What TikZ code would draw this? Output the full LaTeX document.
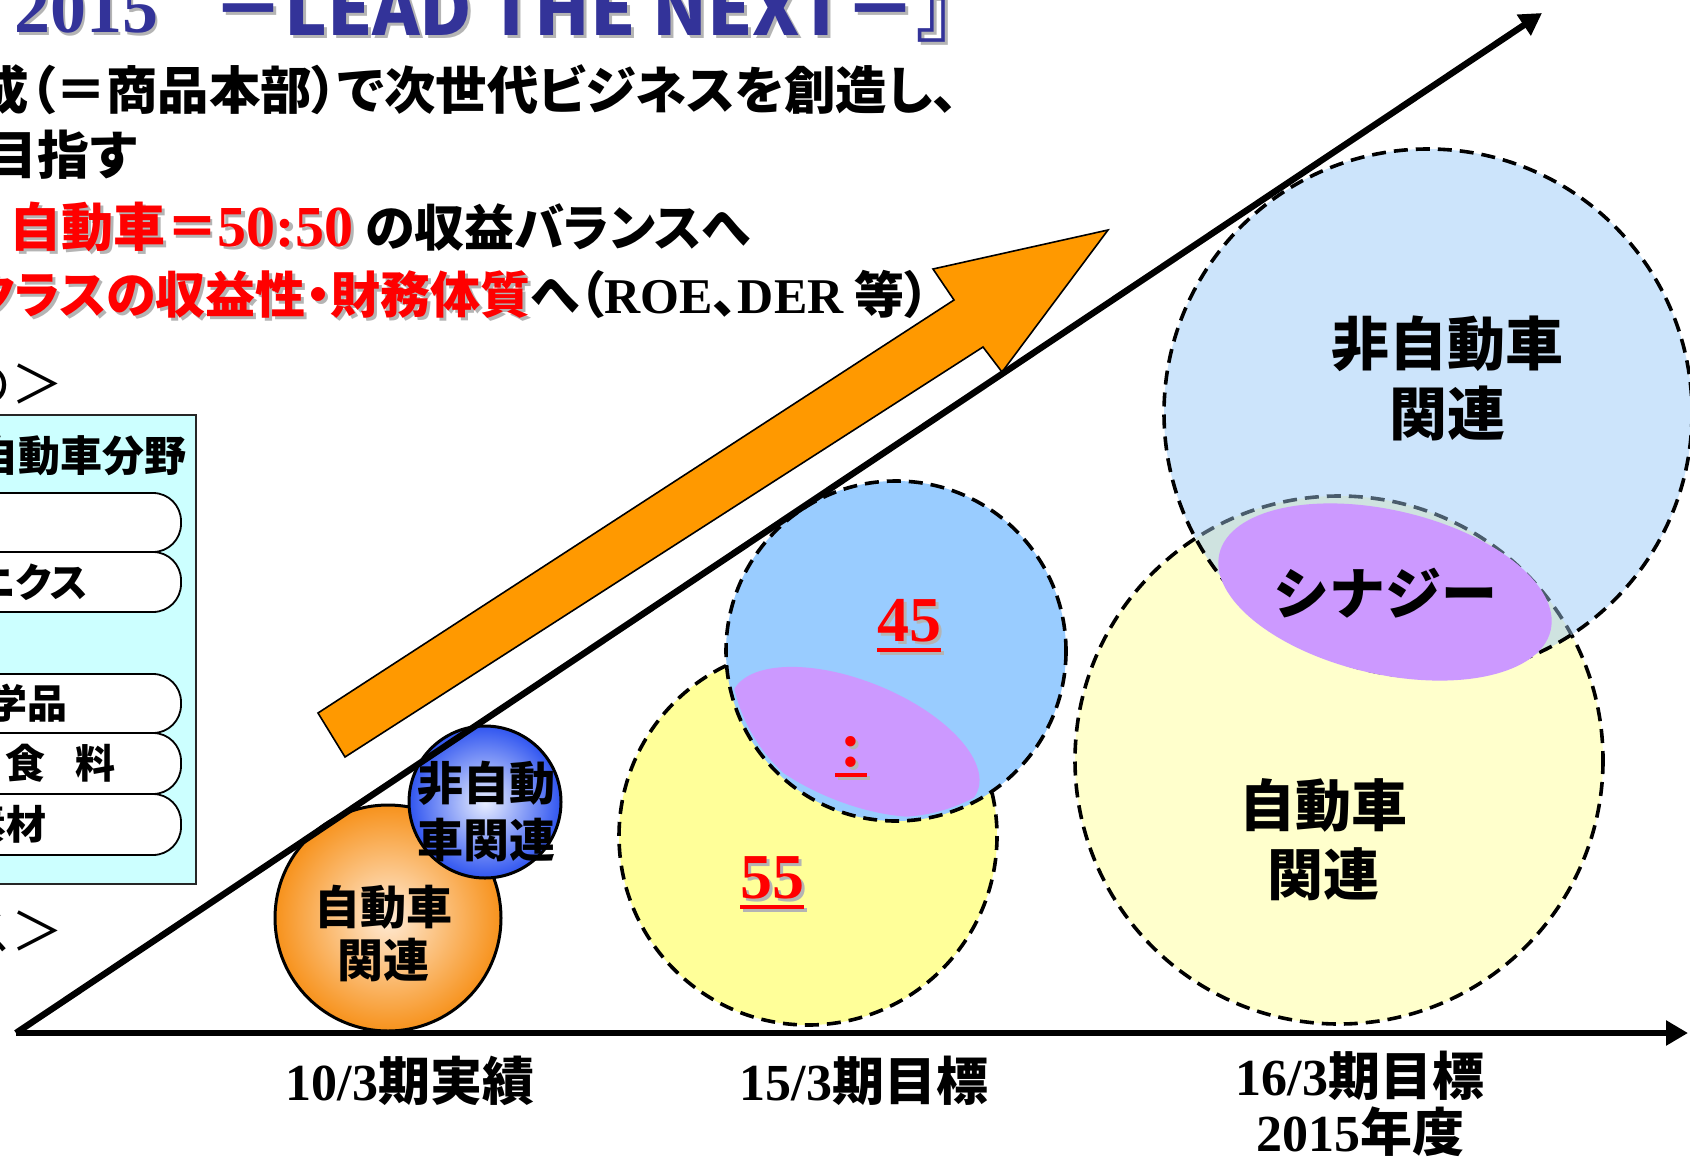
\documentclass[tikz,border=0pt]{standalone}
\usepackage{fontspec}
\newfontfamily\jp{Noto Sans CJK JP}
\newfontfamily\jpp{Noto Sans CJK JP}[RawFeature=+palt]
\newfontfamily\tms{Liberation Serif}
\usetikzlibrary{arrows.meta}
\definecolor{ttlblue}{HTML}{333399}
\definecolor{shd}{HTML}{B4B4B4}
\definecolor{orng}{HTML}{FF9900}
\definecolor{orngedge}{HTML}{F7921C}
\definecolor{orngin}{HTML}{FFEBD6}
\definecolor{bluedge}{HTML}{3055F0}
\definecolor{bluin}{HTML}{E8EEFF}
\definecolor{ylw1}{HTML}{FFFF99}
\definecolor{blu1}{HTML}{99CCFF}
\definecolor{ylw2}{HTML}{FFFFCC}
\definecolor{blu2}{HTML}{CCE4FB}
\definecolor{mix2}{HTML}{CFE3E0}
\definecolor{purp}{HTML}{CC99FF}
\definecolor{boxcyan}{HTML}{CCFFFF}
\definecolor{grayline}{HTML}{4A5C6C}
\newcommand\fs[2]{\fontsize{#1pt}{#2pt}\selectfont}
\newcommand\shd[2]{\leavevmode\rlap{\kern1.5pt\raisebox{-1.5pt}{\color{shd}#2}}{\color{#1}#2}}
\newcommand\ulbox[1]{\setbox0=\hbox{#1}\rlap{\rule[-5.5pt]{\wd0}{2pt}}\box0}
\begin{document}
\begin{tikzpicture}[x=0.5pt,y=-0.5pt,
  txt/.style={inner sep=0pt, outer sep=0pt},
  dsh/.style={line width=1.8pt, dash pattern=on 7pt off 4pt},
  axisline/.style={line width=3.2pt, -{Triangle[length=11pt,width=12pt]}},
  pill/.style={fill=white, draw=black, line width=0.9pt, rounded corners=14pt},
]
\useasboundingbox (0,0) rectangle (1690,1156);
\clip (0,0) rectangle (1690,1156);

% ---------- title and text lines ----------
\node[txt, anchor=base west] (t2015) at (14,33) {\tms\bfseries\fs{36}{40}\shd{ttlblue}{2015}};
\node[txt, anchor=base west] (tlead) at (212,36) {\jp\bfseries\fs{36}{40}\shd{ttlblue}{－LEAD THE NEXT－』}};
\node[txt, anchor=base west] (l2) at (-22,110) {\jpp\bfseries\fs{25.7}{30}成（＝商品本部）で次世代ビジネスを創造し、};
\node[txt, anchor=base west] (l3) at (-14,174) {\jpp\bfseries\fs{26}{30}目指す};
\node[txt, anchor=base west] (l4) at (10,246) {\jpp\bfseries\fs{26}{30}\shd{red}{自動車＝{\tms\bfseries\fs{29}{30}50:50}}\ {\fs{25}{30}の収益バランスへ}};
\node[txt, anchor=base west] (l5) at (-30,313) {\jpp\bfseries\fs{25}{30}\shd{red}{クラスの収益性・財務体質}へ（{\tms\bfseries ROE}、{\tms\bfseries DER} 等）};
\node[txt, anchor=base west] (l6) at (-40,403) {\jp\fs{26}{30}の＞};
\node[txt, anchor=base west] (l7) at (-40,950) {\jp\fs{26}{30}ス＞};

% ---------- left box ----------
\draw[fill=boxcyan, draw=black!85, line width=1pt] (-10,415) rectangle (196,884);
\node[txt, anchor=base east] (hdr) at (187,471) {\jp\bfseries\fs{21}{24}非自動車分野};
\draw[pill] (-40,493) -- (181,493) -- (181,552) -- (-40,552) -- cycle;
\draw[pill] (-40,552) -- (181,552) -- (181,612) -- (-40,612) -- cycle;
\draw[pill] (-40,674) -- (181,674) -- (181,733) -- (-40,733) -- cycle;
\draw[pill] (-40,733) -- (181,733) -- (181,794) -- (-40,794) -- cycle;
\draw[pill] (-40,794) -- (181,794) -- (181,855) -- (-40,855) -- cycle;
\node[txt, anchor=base east] (p2) at (88,597) {\jpp\bfseries\fs{20}{24}エレクトロニクス};
\node[txt, anchor=base east] (p3) at (68,718) {\jp\bfseries\fs{20}{24}化学品};
\node[txt, anchor=base east] (p4) at (115,778) {\jp\bfseries\fs{20}{24}食\hspace{0.75em}料};
\node[txt, anchor=base east] (p5) at (47,839) {\jp\bfseries\fs{20}{24}素材};

% ---------- orange arrow ----------
\filldraw[fill=orng, draw=black, line width=0.8pt]
  (318,713) -- (954,300) -- (933,269) -- (1108,230) -- (1002,372) -- (983,347) -- (345,757) -- cycle;

% ---------- 10/3 circles ----------
\shade[inner color=orngin, outer color=orngedge] (388,918) circle [radius=113];
\draw[line width=1.5pt] (388,918) circle [radius=113];
\shade[inner color=bluin, outer color=bluedge] (485,802) circle [radius=76];
\draw[line width=1.5pt] (485,802) circle [radius=76];

% ---------- 15/3 circles ----------
\fill[ylw1] (808,836) circle [radius=189];
\draw[dsh] (808,836) circle [radius=189];
\fill[blu1] (896,651) circle [radius=170];
\begin{scope}
  \clip (896,651) circle [radius=166];
  \fill[purp, rotate around={-22:(855,742)}] (855,742) ellipse [x radius=132, y radius=61];
\end{scope}
\draw[dsh] (896,651) circle [radius=170];

% ---------- 16/3 circles ----------
\fill[ylw2] (1339,760) circle [radius=264];
\draw[dsh] (1339,760) circle [radius=264];
\fill[blu2] (1428,413) circle [radius=264];
\begin{scope}
  \clip (1428,413) circle [radius=264];
  \fill[mix2] (1339,760) circle [radius=264];
  \draw[dsh, grayline] (1339,760) circle [radius=264];
\end{scope}
\draw[dsh] (1428,413) circle [radius=264];
\fill[purp, rotate around={-13:(1385,592)}] (1385,592) ellipse [x radius=170, y radius=82];

% ---------- axes ----------
\coordinate (O) at (16,1033);
\coordinate (XE) at (1688,1033);
\coordinate (DE) at (1542,13);
\draw[axisline] (O) -- (DE);
\draw[axisline] (O) -- (XE);

% ---------- circle texts ----------
\node[txt, align=center, font=\jp\bfseries\fs{23}{26.5}] (c1) at (383,933) {自動車\\関連};
\node[txt, align=center, font=\jp\bfseries\fs{23}{28.5}] (c2) at (486,811) {非自動\\車関連};
\node[txt, anchor=base] (n45) at (909,641) {\tms\bfseries\fs{32}{34}\shd{red}{\ulbox{45}}};
\node[txt, anchor=base] (ncol) at (851,766) {\tms\bfseries\fs{32}{34}\shd{red}{\ulbox{\makebox[16pt]{:}}}};
\node[txt, anchor=base] (n55) at (772,898) {\tms\bfseries\fs{32}{34}\shd{red}{\ulbox{55}}};
\node[txt, align=center, font=\jp\bfseries\fs{29}{35}] (c3) at (1447,378) {非自動車\\関連};
\node[txt, font=\jp\bfseries\fs{28}{32}] (syn) at (1385,593) {シナジー};
\node[txt, align=center, font=\jp\bfseries\fs{28}{34.5}] (c4) at (1323,840) {自動車\\関連};

% ---------- axis labels ----------
\node[txt, anchor=base, font=\jp\bfseries\fs{26}{28}] (x1) at (410,1100) {{\tms\bfseries 10/3}期実績};
\node[txt, anchor=base, font=\jp\bfseries\fs{26}{28}] (x2) at (864,1100) {{\tms\bfseries 15/3}期目標};
\node[txt, anchor=base, font=\jp\bfseries\fs{26}{28}] (x3) at (1360,1095) {{\tms\bfseries 16/3}期目標};
\node[txt, anchor=base, font=\jp\bfseries\fs{26}{28}] (x4) at (1360,1151) {{\tms\bfseries 2015}年度};
\end{tikzpicture}
\end{document}
